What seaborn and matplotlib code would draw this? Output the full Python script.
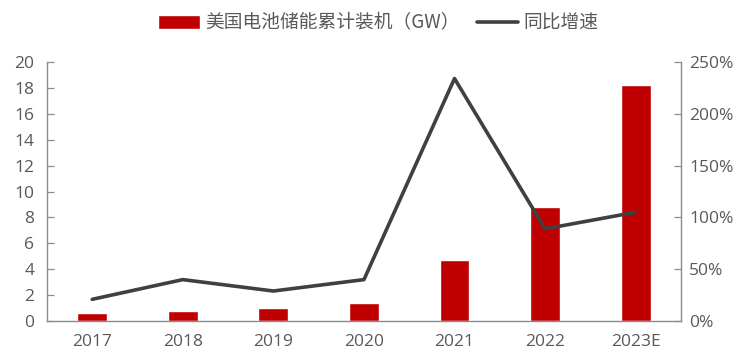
import matplotlib
matplotlib.use("Agg")
import matplotlib.pyplot as plt
from matplotlib.ticker import FuncFormatter, MultipleLocator
import seaborn as sns
import pandas as pd

years = ["2017", "2018", "2019", "2020", "2021", "2022", "2023E"]
capacity_gw = [0.6, 0.77, 0.98, 1.41, 4.71, 8.83, 18.2]
yoy_growth = [21, 40, 29, 40, 234, 89, 105]

bar_label = "美国电池储能累计装机（GW）"
line_label = "同比增速"

sns.set_theme(style="white")
plt.rcParams["font.family"] = ["Noto Sans CJK SC", "DejaVu Sans"]

text_color = "#595959"
spine_color = "#8c8c8c"
bar_color = "#C00000"
line_color = "#404040"
tick_font = ["Open Sans", "Noto Sans CJK SC", "DejaVu Sans"]

df = pd.DataFrame({"year": years, "capacity": capacity_gw, "growth": yoy_growth})

fig = plt.figure(figsize=(7.45, 3.54), dpi=100)
ax = fig.add_axes([0.063, 0.093, 0.851, 0.732])

sns.barplot(data=df, x="year", y="capacity", color=bar_color, width=0.33,
            saturation=1, ax=ax, label=bar_label)
ax.set_ylim(0, 20)
ax.yaxis.set_major_locator(MultipleLocator(2))
ax.set_xlim(-0.5, len(years) - 0.5)
ax.set_xlabel("")
ax.set_ylabel("")

ax2 = ax.twinx()
sns.lineplot(data=df, x="year", y="growth", color=line_color, linewidth=2.6,
             ax=ax2, label=line_label, sort=False)
ax2.set_ylim(0, 250)
ax2.yaxis.set_major_locator(MultipleLocator(50))
ax2.yaxis.set_major_formatter(FuncFormatter(lambda v, _: f"{v:.0f}%"))
ax2.set_ylabel("")
ax2.set_xlim(-0.5, len(years) - 0.5)

for a in (ax, ax2):
    for side in ("left", "right", "bottom"):
        a.spines[side].set_color(spine_color)
        a.spines[side].set_linewidth(1.0)
    a.spines["top"].set_visible(False)
    a.tick_params(colors=spine_color, length=5, width=0.9, direction="in")
    a.tick_params(axis="x", length=0, pad=9)
ax.spines["right"].set_visible(False)
ax2.spines["left"].set_visible(False)
ax2.spines["bottom"].set_visible(False)
ax.tick_params(axis="y", left=True, pad=9)
ax2.tick_params(axis="y", right=True, pad=6)
for lbl in ax.get_xticklabels() + ax.get_yticklabels() + ax2.get_yticklabels():
    lbl.set_color(text_color)
    lbl.set_family(tick_font)
    lbl.set_fontsize(12.5)

# combined legend across the top
h1, l1 = ax.get_legend_handles_labels()
h2, l2 = ax2.get_legend_handles_labels()
if ax2.get_legend() is not None:
    ax2.get_legend().remove()
if ax.get_legend() is not None:
    ax.get_legend().remove()
fig.legend(h1 + h2, l1 + l2, loc="center", bbox_to_anchor=(0.508, 0.935),
           ncol=2, frameon=False, fontsize=13.5, labelcolor=text_color,
           handlelength=2.2, handleheight=0.7, columnspacing=0.9,
           handletextpad=0.3)

fig.savefig("out.png", dpi=100)
